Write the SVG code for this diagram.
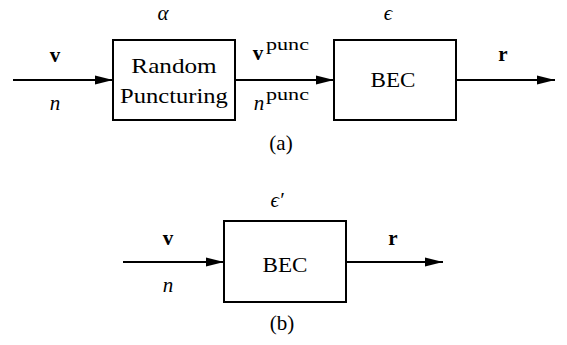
<svg xmlns="http://www.w3.org/2000/svg" width="567" height="345" viewBox="0 0 567 345">
<style>
.box{fill:#fff;stroke:#000;stroke-width:2}
.ln{stroke:#000;stroke-width:2;fill:none;marker-end:url(#ah)}
text{font-size:21px;fill:#000;text-anchor:middle}
.b{font-weight:bold}
.i{font-style:italic}
.sup{font-size:17px;text-anchor:start}
</style>
<defs>
<marker id="ah" markerUnits="userSpaceOnUse" markerWidth="18" markerHeight="12" refX="18" refY="6" orient="auto">
<path d="M0,1.5 L18,6 L0,10.5 Z" fill="#000"/>
</marker>
</defs>
<rect width="567" height="345" fill="#fff"/>
<g id="connectors">
<line class="ln" x1="13" y1="80" x2="113" y2="80"/>
<line class="ln" x1="235" y1="80" x2="334" y2="80"/>
<line class="ln" x1="456" y1="80" x2="555" y2="80"/>
<line class="ln" x1="123" y1="262" x2="224" y2="262"/>
<line class="ln" x1="346" y1="262" x2="443" y2="262"/>
</g>
<g font-family="Liberation Serif, serif">
<g id="puncturing">
<rect class="box" x="113" y="40" width="122" height="80"/>
<text transform="translate(174,73) scale(1.2,1)">Random</text>
<text transform="translate(174,103) scale(1.17,1)">Puncturing</text>
<text class="i" x="163" y="20">α</text>
</g>
<g id="bec-a">
<rect class="box" x="334" y="40" width="122" height="80"/>
<text transform="translate(393,87) scale(1.1,1)">BEC</text>
<text class="i" x="388" y="20">ϵ</text>
</g>
<g id="labels-a">
<text class="b" x="55" y="62">v</text>
<text class="i" x="55" y="110">n</text>
<text class="b" x="258" y="60">v</text>
<text class="sup" transform="translate(266,50) scale(1.3,1)">punc</text>
<text class="i" x="259" y="110">n</text>
<text class="sup" transform="translate(266,100) scale(1.3,1)">punc</text>
<text class="b" x="503" y="61">r</text>
<text x="281" y="150">(a)</text>
</g>
<g id="bec-b">
<rect class="box" x="224" y="221" width="122" height="81"/>
<text transform="translate(285,272) scale(1.1,1)">BEC</text>
<text class="i" x="277" y="207">ϵ′</text>
</g>
<g id="labels-b">
<text class="b" x="168" y="245">v</text>
<text class="i" x="168" y="292">n</text>
<text class="b" x="393" y="245">r</text>
<text x="282" y="330">(b)</text>
</g>
</g>
</svg>
